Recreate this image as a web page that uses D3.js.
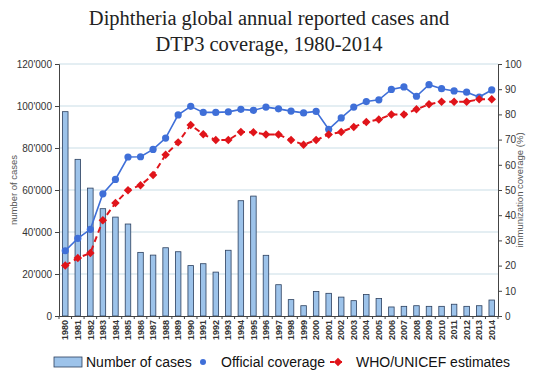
<!DOCTYPE html>
<html>
<head>
<meta charset="utf-8">
<script src="https://cdn.jsdelivr.net/npm/d3@7"></script>
<style>
  body { margin: 0; background: #fff; }
  svg { display: block; font-family: "Liberation Sans", Arial, sans-serif; }
  .tick text { fill: #333; }
</style>
</head>
<body>
<div id="chart"></div>
<script>
const WIDTH = 536;
const HEIGHT = 372;
const LEFT = 59, RIGHT = 498, TOP = 64, BOTTOM = 316;

var years = ["1980","1981","1982","1983","1984","1985","1986","1987","1988","1989",
  "1990","1991","1992","1993","1994","1995","1996","1997","1998","1999",
  "2000","2001","2002","2003","2004","2005","2006","2007","2008","2009",
  "2010","2011","2012","2013","2014"];

var cases = [97300, 74600, 60900, 51100, 47100, 43800, 30300, 29000, 32500, 30600,
  24000, 24900, 20900, 31300, 54900, 57100, 28900, 14900, 7800, 4900,
  11700, 10800, 9000, 7300, 10200, 8300, 4300, 4600, 4900, 4600,
  4600, 5600, 4600, 4900, 7600];

var official = [25.9, 30.8, 34.4, 48.5, 54.2, 63.1, 63.2, 66.1, 70.6, 79.8,
  83.2, 80.8, 80.8, 81, 82, 81.6, 82.9, 82.2, 81.3, 80.6,
  81.2, 74.1, 78.6, 82.9, 85.1, 85.8, 89.9, 90.9, 87.2, 91.8,
  90.2, 89.3, 88.8, 86.9, 89.7];

var estimates = [20, 23, 25, 38, 44.8, 49.9, 51.9, 56, 64, 68.9,
  75.8, 72.1, 69.8, 69.8, 73, 72.9, 72, 72, 69.8, 68,
  69.8, 72, 73, 75, 77, 78, 80, 80, 82, 84,
  85, 85, 85, 86, 86];

var casesTicks = [0, 20000, 40000, 60000, 80000, 100000, 120000];
var coverageTicks = [0, 10, 20, 30, 40, 50, 60, 70, 80, 90, 100];

var locale = d3.formatLocale({decimal: ".", thousands: "'", grouping: [3], currency: ["", ""]});
var fmt = locale.format(",");

var svg = d3.select("#chart").append("svg")
  .attr("width", WIDTH)
  .attr("height", HEIGHT);

var x = d3.scaleBand().domain(years).range([LEFT, RIGHT]).padding(0);
var yCases = d3.scaleLinear().domain([0, 120000]).range([BOTTOM, TOP]);
var yCov = d3.scaleLinear().domain([0, 100]).range([BOTTOM, TOP]);

// title
svg.append("text")
  .attr("x", 269).attr("y", 0)
  .attr("text-anchor", "middle")
  .style("font-family", "'Liberation Serif', 'Times New Roman', serif")
  .style("font-size", "20.5px")
  .attr("fill", "#222")
  .selectAll("tspan")
  .data(["Diphtheria global annual reported cases and", "DTP3 coverage, 1980-2014"])
  .enter().append("tspan")
  .attr("x", 269)
  .attr("y", function(d, i){ return 25 + i * 26; })
  .text(function(d){ return d; });

// gridlines
svg.append("g")
  .selectAll("line")
  .data(casesTicks.slice(1))
  .enter().append("line")
  .attr("x1", LEFT).attr("x2", RIGHT)
  .attr("y1", function(d){ return yCases(d); })
  .attr("y2", function(d){ return yCases(d); })
  .attr("stroke", "#c9dde6")
  .attr("stroke-width", 1);

// bars
svg.append("g")
  .selectAll("rect")
  .data(cases)
  .enter().append("rect")
  .attr("x", function(d, i){ return x(years[i]) + x.bandwidth() * 0.28; })
  .attr("width", x.bandwidth() * 0.44)
  .attr("y", function(d){ return yCases(d); })
  .attr("height", function(d){ return BOTTOM - yCases(d); })
  .attr("fill", "#9dc3ea")
  .attr("stroke", "#2b3f5e")
  .attr("stroke-width", 0.8);

var cx = function(d, i){ return x(years[i]) + x.bandwidth() / 2; };

// official coverage line
var lineOff = d3.line().x(cx).y(function(d){ return yCov(d); });
svg.append("path")
  .attr("d", lineOff(official))
  .attr("fill", "none")
  .attr("stroke", "#3f6fd8")
  .attr("stroke-width", 1.6);

// WHO/UNICEF line
svg.append("path")
  .attr("d", lineOff(estimates))
  .attr("fill", "none")
  .attr("stroke", "#e0141a")
  .attr("stroke-width", 2)
  .attr("stroke-dasharray", "6,4");

svg.append("g")
  .selectAll("circle")
  .data(official)
  .enter().append("circle")
  .attr("cx", cx)
  .attr("cy", function(d){ return yCov(d); })
  .attr("r", 3.6)
  .attr("fill", "#3f6fd8");

var diamond = d3.symbol().type(d3.symbolDiamond2).size(46);
svg.append("g")
  .selectAll("path")
  .data(estimates)
  .enter().append("path")
  .attr("d", diamond)
  .attr("transform", function(d, i){ return "translate(" + cx(d, i) + "," + yCov(d) + ")"; })
  .attr("fill", "#e0141a");

// axes
var leftAxis = svg.append("g")
  .attr("transform", "translate(" + LEFT + ",0)")
  .call(d3.axisLeft(yCases).tickValues(casesTicks).tickFormat(fmt).tickSize(4).tickPadding(3));
var rightAxis = svg.append("g")
  .attr("transform", "translate(" + RIGHT + ",0)")
  .call(d3.axisRight(yCov).tickValues(coverageTicks).tickSize(4).tickPadding(3));
[leftAxis, rightAxis].forEach(function(a){
  a.selectAll("text").style("font-size", "10px").attr("fill", "#444");
  a.select(".domain").attr("stroke", "#444");
  a.selectAll(".tick line").attr("stroke", "#444");
});

var bottomAxis = svg.append("g")
  .attr("transform", "translate(0," + BOTTOM + ")")
  .call(d3.axisBottom(x).tickSize(0).tickPadding(4));
bottomAxis.select(".domain").attr("stroke", "#444");
bottomAxis.selectAll("text")
  .attr("transform", "rotate(-90)")
  .attr("text-anchor", "end")
  .attr("dy", "0.35em")
  .attr("x", -4)
  .attr("y", 0)
  .style("font-size", "9px")
  .style("font-weight", "bold")
  .attr("fill", "#222");

// boundary ticks between years
svg.append("g")
  .selectAll("line")
  .data(years.concat(["end"]))
  .enter().append("line")
  .attr("x1", function(d, i){ return LEFT + i * x.step(); })
  .attr("x2", function(d, i){ return LEFT + i * x.step(); })
  .attr("y1", BOTTOM).attr("y2", BOTTOM + 3)
  .attr("stroke", "#444");

// axis titles
svg.append("text")
  .attr("transform", "translate(17," + ((TOP + BOTTOM) / 2) + ") rotate(-90)")
  .attr("text-anchor", "middle")
  .style("font-size", "9.5px")
  .attr("fill", "#555")
  .text("number of cases");
svg.append("text")
  .attr("transform", "translate(523," + ((TOP + BOTTOM) / 2) + ") rotate(-90)")
  .attr("text-anchor", "middle")
  .style("font-size", "9.5px")
  .attr("fill", "#555")
  .text("immunization coverage (%)");

// legend
var LY = 362;
var legend = svg.append("g").style("font-size", "14px").attr("fill", "#111");
legend.append("rect")
  .attr("x", 54).attr("y", LY - 5).attr("width", 28).attr("height", 10)
  .attr("fill", "#9dc3ea").attr("stroke", "#2b3f5e").attr("stroke-width", 0.8);
legend.append("text").attr("x", 86).attr("y", LY + 5).text("Number of cases");
legend.append("circle").attr("cx", 203).attr("cy", LY).attr("r", 3).attr("fill", "#3f6fd8");
legend.append("text").attr("x", 221).attr("y", LY + 5).text("Official coverage");
legend.append("line").attr("x1", 330).attr("x2", 346).attr("y1", LY).attr("y2", LY)
  .attr("stroke", "#e0141a").attr("stroke-width", 2).attr("stroke-dasharray", "4,4");
legend.append("path").attr("d", diamond).attr("transform", "translate(338," + LY + ")").attr("fill", "#e0141a");
legend.append("text").attr("x", 356).attr("y", LY + 5).text("WHO/UNICEF estimates");
</script>
</body>
</html>
